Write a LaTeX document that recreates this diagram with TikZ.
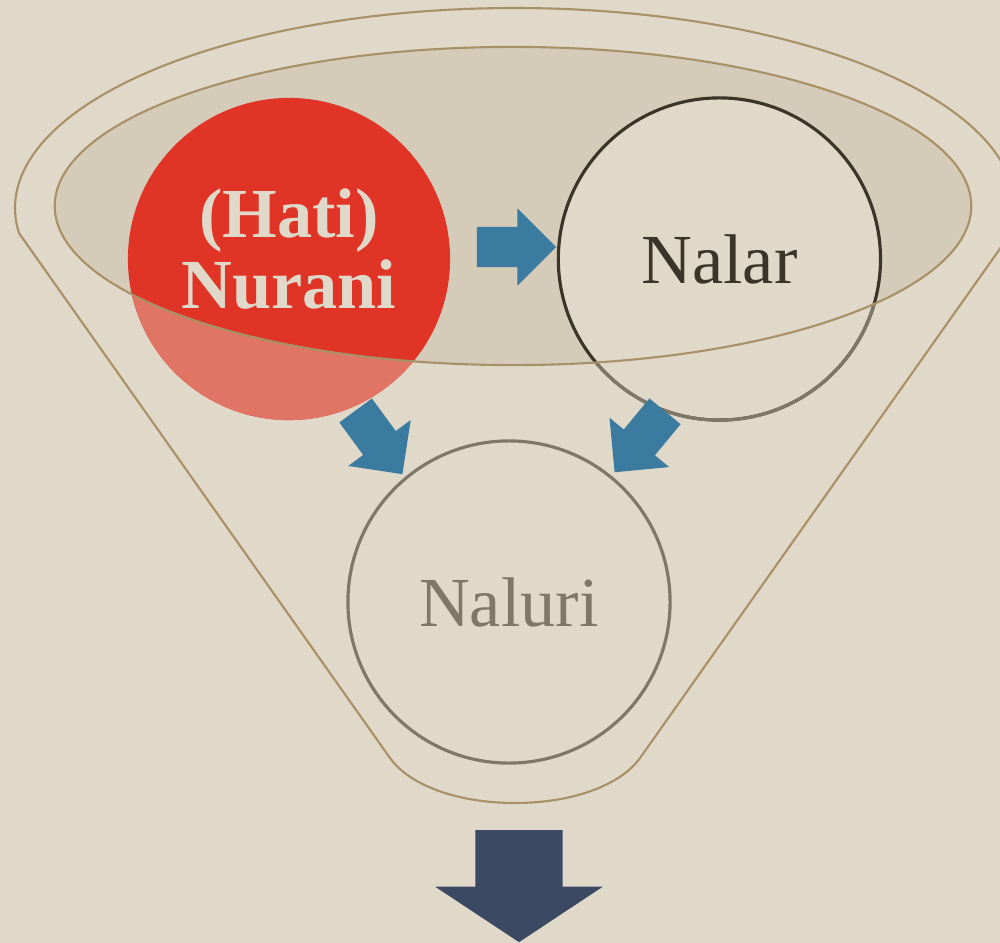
\documentclass[tikz,border=0pt]{standalone}
\usepackage{fontspec}
\setmainfont{Liberation Serif}
\usetikzlibrary{shapes.arrows, positioning}

\definecolor{paper}{HTML}{E0D8C8}
\definecolor{bowl}{HTML}{D4CBB9}
\definecolor{rim}{HTML}{A89067}
\definecolor{hotred}{HTML}{E03427}
\definecolor{palered}{HTML}{E17565}
\definecolor{steel}{HTML}{3B7BA0}
\definecolor{navy}{HTML}{3C4963}
\definecolor{ink}{HTML}{3B3428}
\definecolor{ash}{HTML}{7F776A}

\begin{document}
\begin{tikzpicture}[
    x=0.01cm, y=-0.01cm,
    ball/.style={circle, minimum size=3.22cm, inner sep=0pt, align=center, line width=0.9pt, font=\fontsize{20}{20}\selectfont},
    flow/.style={single arrow, fill=steel, anchor=tip, inner xsep=0pt, inner ysep=0.195cm, minimum height=0.79cm, minimum width=0.76cm, single arrow head extend=0.185cm},
    rimline/.style={draw=rim, line width=0.6pt},
    node distance=1.05cm
]

% Paper
\useasboundingbox (0,0) rectangle (1000,943);
\clip (0,0) rectangle (1000,943);
\fill[paper] (0,0) rectangle (1000,943);

% Funnel
\draw[rimline] plot[domain=187.2:-7.2, samples=90, smooth] ({515+500*cos(\x)},{208-200*sin(\x)})
    -- (640,758) .. controls (621.5,784) and (575,803) .. (515,803)
    .. controls (455,803) and (408.5,784) .. (390,758) -- cycle;
\fill[bowl] (513,206) ellipse [x radius=4.58cm, y radius=1.59cm];

% Nodes
\node[ball, fill=hotred, text=paper, font=\bfseries\fontsize{20}{20}\selectfont] (nurani) at (289,259) {\raisebox{2.5pt}{\begin{tabular}{@{}c@{}}(Hati)\\Nurani\end{tabular}}};
\node[ball, fill=paper, draw=ink, text=ink, right=of nurani] (nalar) {Nalar};
\node[ball, fill=paper, draw=ash, text=ash] (naluri) at (509,602) {Naluri};

% Outside the bowl
\begin{scope}[even odd rule]
  \clip (0,0) rectangle (1000,943) (513,206) ellipse [x radius=4.58cm, y radius=1.59cm];
  \fill[palered] (nurani.center) circle (1.61cm);
  \draw[ash, line width=0.9pt] (nalar.center) circle (1.61cm);
\end{scope}
\draw[rimline] (513,206) ellipse [x radius=4.58cm, y radius=1.59cm];

% Arrows
\node[flow] (toNalar) at (557,247) {};
\node[flow, rotate=-53.7] (fromNurani) at (403,475) {};
\node[flow, rotate=-129.6] (fromNalar) at (614,473) {};
\node[flow, fill=navy, inner ysep=0.43cm, minimum height=1.12cm, minimum width=1.66cm, single arrow head extend=0.4cm, single arrow tip angle=113, rotate=-90] (outflow) at (519,943) {};

\end{tikzpicture}
\end{document}
